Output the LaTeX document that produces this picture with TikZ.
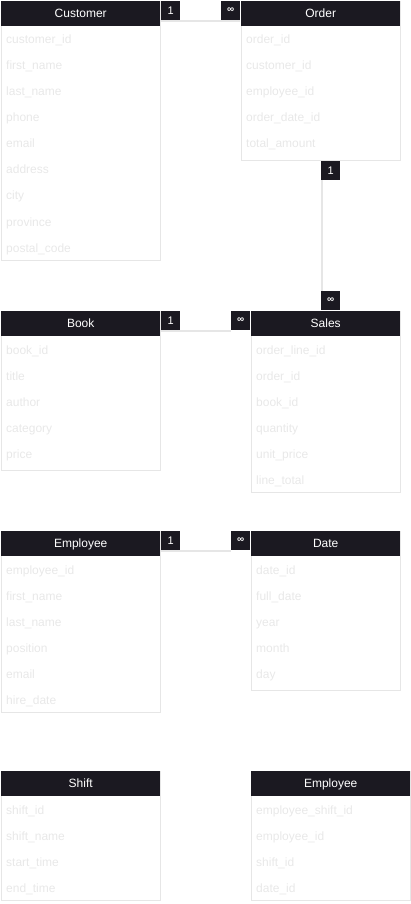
\documentclass[tikz,border=0pt]{standalone}
\usepackage{fontspec}
\setmainfont{Liberation Sans}
\usetikzlibrary{positioning}

\definecolor{hdr}{HTML}{1B1921}
\definecolor{fld}{HTML}{E8E8E8}
\definecolor{rim}{HTML}{E6E6E6}
\definecolor{wire}{HTML}{E6E6E6}

\newcommand{\many}{\raisebox{1.5pt}{\bfseries\fontsize{10}{11}\selectfont ∞}}

\tikzset{
    head/.style={fill=hdr, text=white, anchor=north west, inner sep=0pt,
        minimum height=25pt, text height=9pt, text depth=2pt,
        font=\fontsize{12}{14}\selectfont},
    field/.style={anchor=base west, text=fld, inner sep=0pt,
        font=\fontsize{12}{14}\selectfont},
    card/.style={fill=hdr, text=white, anchor=north west, inner sep=0pt,
        minimum width=19pt, minimum height=19pt, font=\fontsize{11}{13}\selectfont},
    link/.style={draw=wire, line width=2pt}
}

\begin{document}
\begin{tikzpicture}[x=1pt, y=-1pt]

        \useasboundingbox (0,0) rectangle (411,904);

        % table bodies
        \draw[rim]
            (1,1) rectangle (160,260)
            (241,1) rectangle (400,160)
            (1,311) rectangle (160,470)
            (251,311) rectangle (400,492)
            (1,531) rectangle (160,712)
            (251,531) rectangle (400,690)
            (1,771) rectangle (160,900)
            (251,771) rectangle (410,900);

        % headers
        \node[head, minimum width=159pt] (customer) at (1,1) {Customer};
        \node[head, minimum width=159pt] (order) at (241,1) {Order};
        \node[head, minimum width=159pt] (book) at (1,311) {Book};
        \node[head, minimum width=149pt] (sales) at (251,311) {Sales};
        \node[head, minimum width=159pt] (employee) at (1,531) {Employee};
        \node[head, minimum width=149pt] (date) at (251,531) {Date};
        \node[head, minimum width=159pt] (shift) at (1,771) {Shift};
        \node[head, minimum width=159pt] (empshift) at (251,771) {Employee};

        % fields
        \foreach \f [count=\i] in {customer\_id, first\_name, last\_name, phone,
                email, address, city, province, postal\_code}
            \node[field] (customer-\i) at (6, 18+26*\i) {\f};

        \foreach \f [count=\i] in {order\_id, customer\_id, employee\_id,
                order\_date\_id, total\_amount}
            \node[field] (order-\i) at (246, 18+26*\i) {\f};

        \foreach \f [count=\i] in {book\_id, title, author, category, price}
            \node[field] (book-\i) at (6, 328+26*\i) {\f};

        \foreach \f [count=\i] in {order\_line\_id, order\_id, book\_id,
                quantity, unit\_price, line\_total}
            \node[field] (sales-\i) at (256, 328+26*\i) {\f};

        \foreach \f [count=\i] in {employee\_id, first\_name, last\_name,
                position, email, hire\_date}
            \node[field] (employee-\i) at (6, 548+26*\i) {\f};

        \foreach \f [count=\i] in {date\_id, full\_date, year, month, day}
            \node[field] (date-\i) at (256, 548+26*\i) {\f};

        \foreach \f [count=\i] in {shift\_id, shift\_name, start\_time, end\_time}
            \node[field] (shift-\i) at (6, 788+26*\i) {\f};

        \foreach \f [count=\i] in {employee\_shift\_id, employee\_id, shift\_id, date\_id}
            \node[field] (empshift-\i) at (256, 788+26*\i) {\f};

        % cardinalities
        \node[card] (co-one) at (161,1) {1};
        \node[card] (co-many) at (221,1) {\many};
        \node[card] (os-one) at (321,161) {1};
        \node[card] (os-many) at (321,291) {\many};
        \node[card] (bs-one) at (161,311) {1};
        \node[card] (bs-many) at (231,311) {\many};
        \node[card] (ed-one) at (161,531) {1};
        \node[card] (ed-many) at (231,531) {\many};

        % relations
        \draw[link]
            ([yshift=-1pt]co-one.south west) -- ([yshift=-1pt]co-many.south east)
            ([yshift=-1pt]bs-one.south west) -- ([yshift=-1pt]bs-many.south west)
            ([yshift=-1pt]ed-one.south west) -- ([yshift=-1pt]ed-many.south west);

        \draw[link]
            ([xshift=1pt]os-one.south west) -- ([xshift=1pt]os-many.north west);

\end{tikzpicture}
\end{document}
